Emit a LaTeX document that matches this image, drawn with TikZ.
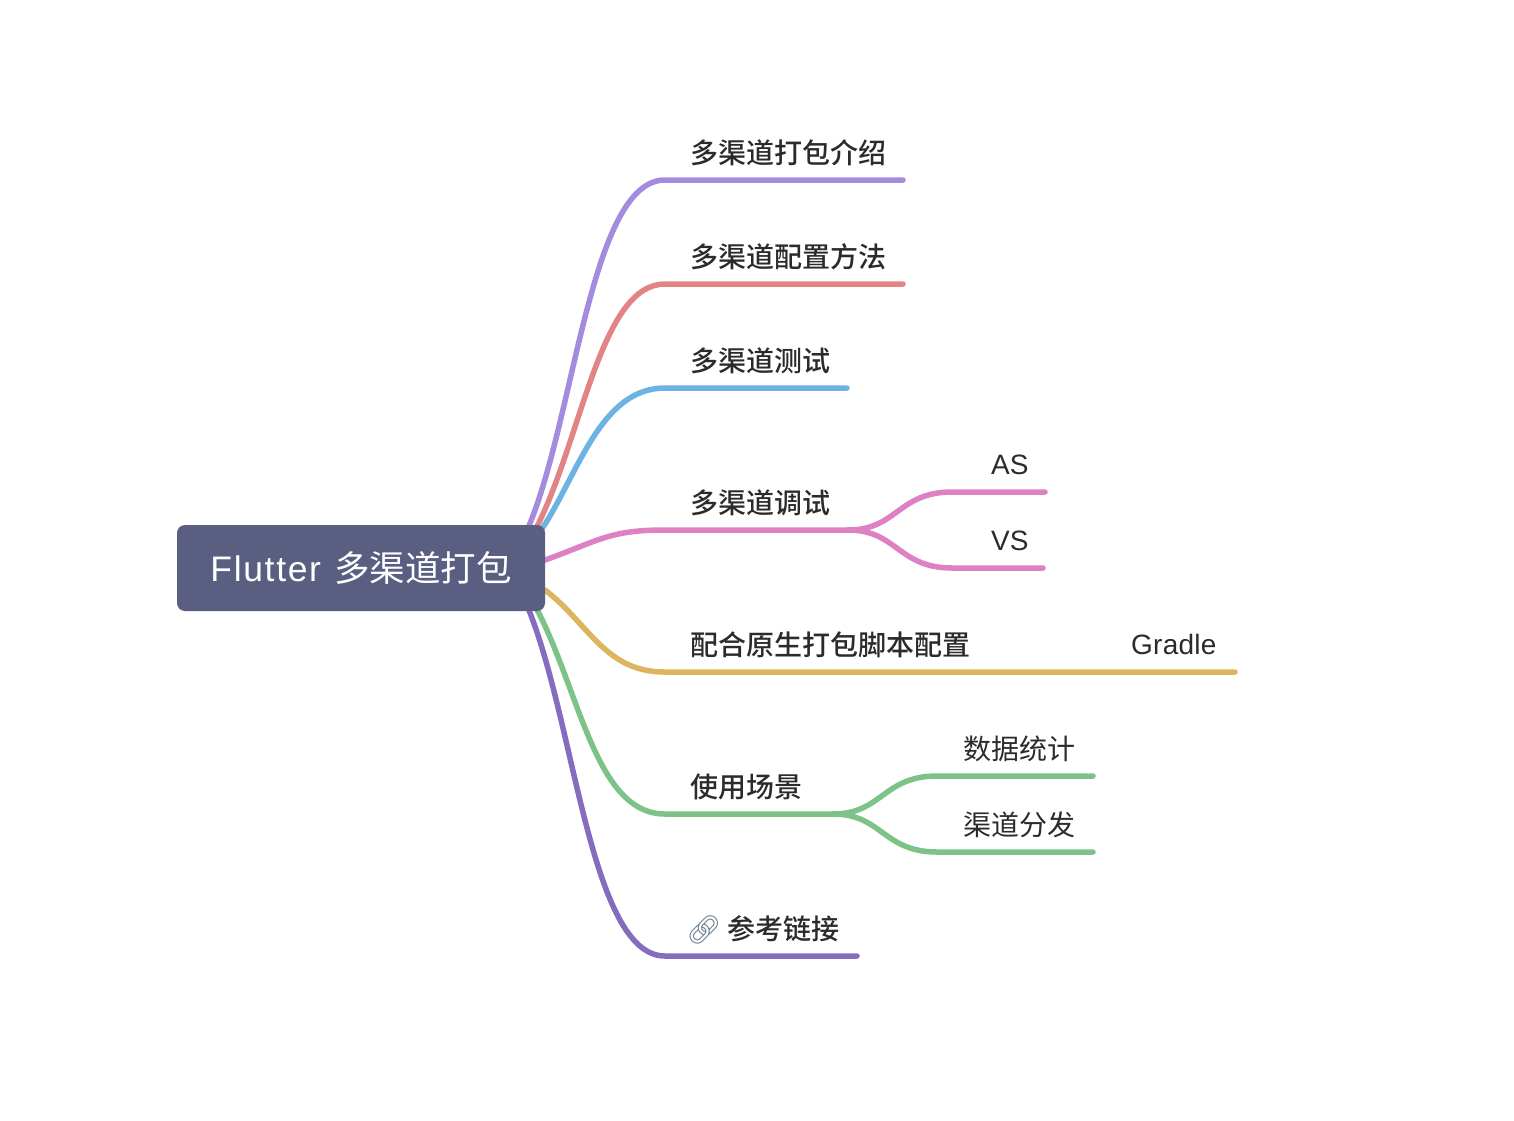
\documentclass[tikz,border=0pt]{standalone}
\usepackage{fontspec}
\setmainfont{Noto Sans CJK SC}
\newfontfamily\topicfont{Noto Sans CJK SC Medium}
\newfontfamily\latinfont{Liberation Sans}
\newfontfamily\flutterfont[LetterSpace=4.7]{Liberation Sans}
\newfontfamily\gradlefont[LetterSpace=0.9]{Liberation Sans}
\newfontfamily\emojifont{Noto Emoji}
\definecolor{rootblue}{HTML}{5A5F82}
\definecolor{mapviolet}{HTML}{A58BDE}
\definecolor{mapred}{HTML}{E28385}
\definecolor{mapblue}{HTML}{6CB2E2}
\definecolor{mappink}{HTML}{DE80C4}
\definecolor{mapyellow}{HTML}{DDB55F}
\definecolor{mapgreen}{HTML}{7DC388}
\definecolor{mappurple}{HTML}{856CBE}
\definecolor{textdark}{HTML}{2B2B2B}
\definecolor{linkgrey}{HTML}{6F8190}
\usetikzlibrary{backgrounds}
\tikzset{
  rootbox/.style={fill=rootblue, text=white, rounded corners=8, inner sep=0,
    minimum width=368, minimum height=86, font=\fontsize{35.5}{42}\selectfont},
  topic/.style={anchor=base west, inner sep=0, text=textdark, font=\fontsize{28}{34}\selectfont\topicfont},
  subtopic/.style={anchor=base west, inner sep=0, text=textdark, font=\fontsize{28}{34}\selectfont},
  branch/.style={line width=5.5, line cap=round}
}

\begin{document}
\begin{tikzpicture}[x=1pt, y=-1pt]
  \useasboundingbox (0,0) rectangle (1514,1120);

  \node [rootbox] (root) at (361,568) {{\flutterfont Flutter}\hspace{13pt}多渠道打包\hspace{4pt}};

  % main topics
  \node [topic] (intro) at (690,163) {多渠道打包介绍};
  \node [topic] (config) at (690,267) {多渠道配置方法};
  \node [topic] (test) at (690,371) {多渠道测试};
  \node [topic] (debug) at (690,513) {多渠道调试};
  \node [topic] (native) at (690,655) {配合原生打包脚本配置};
  \node [topic] (usage) at (690,797) {使用场景};
  \node [topic] (links) at (686,939) {{\emojifont\color{linkgrey}\symbol{"1F517}}\hspace{6pt}参考链接};

  % sub topics
  \node [subtopic] (as) at (991,474) {\latinfont AS};
  \node [subtopic] (vs) at (991,550) {\latinfont VS};
  \node [subtopic] (gradle) at (1131,654) {\gradlefont Gradle};
  \node [subtopic] (stats) at (963,759) {数据统计};
  \node [subtopic] (channel) at (963,835) {渠道分发};

  \coordinate (introEnd) at (903,180);
  \coordinate (configEnd) at (903,284);
  \coordinate (testEnd) at (847,388);
  \coordinate (debugMid) at (848,530);
  \coordinate (asEnd) at (1045,492);
  \coordinate (vsEnd) at (1043,568);
  \coordinate (gradleEnd) at (1235,672);
  \coordinate (usageMid) at (833,814);
  \coordinate (statsEnd) at (1093,776);
  \coordinate (channelEnd) at (1093,852);
  \coordinate (linksEnd) at (857,956);

  \begin{scope}[on background layer]
    \draw [branch, mapviolet] (root.east |- 0,530) ++(-18,0) .. controls (575,420) and (590,180) .. (665,180) -- (introEnd);
    \draw [branch, mapred] (root.east |- 0,530) ++(-10,0) .. controls (582,440) and (600,284) .. (665,284) -- (configEnd);
    \draw [branch, mapblue] (root.east |- 0,530) ++(-4,0) .. controls (578,475) and (600,388) .. (665,388) -- (testEnd);
    \draw [branch, mappink] (root.east |- 0,560) .. controls (600,540) and (610,530) .. (665,530) -- (debugMid);
    \draw [branch, mapyellow] (root.east |- 0,590) .. controls (590,625) and (605,672) .. (665,672) -- (gradleEnd);
    \draw [branch, mapgreen] (root.east |- 0,606) ++(-10,0) .. controls (580,690) and (595,814) .. (665,814) -- (usageMid);
    \draw [branch, mappurple] (root.east |- 0,606) ++(-18,0) .. controls (575,720) and (590,956) .. (665,956) -- (linksEnd);

    % forks
    \draw [branch, mappink] (debugMid) .. controls (897,530) and (898,492) .. (952,492) -- (asEnd);
    \draw [branch, mappink] (debugMid) .. controls (897,530) and (898,568) .. (952,568) -- (vsEnd);
    \draw [branch, mapgreen] (usageMid) .. controls (882,814) and (883,776) .. (937,776) -- (statsEnd);
    \draw [branch, mapgreen] (usageMid) .. controls (882,814) and (883,852) .. (937,852) -- (channelEnd);
  \end{scope}
\end{tikzpicture}
\end{document}
